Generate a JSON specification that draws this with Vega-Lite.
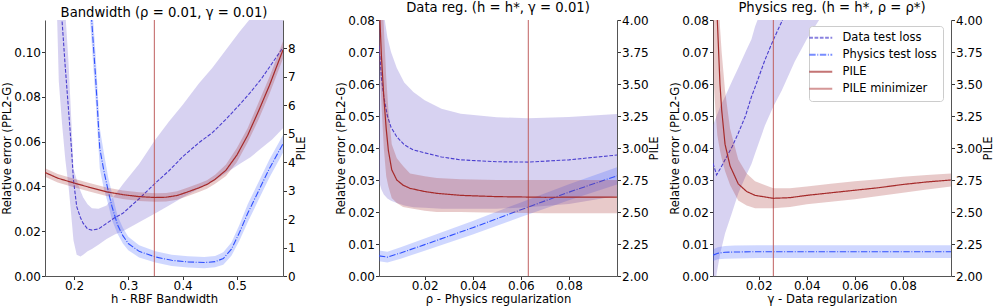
{
  "$schema": "https://vega.github.io/schema/vega-lite/v6.json",
  "padding": {"left": 1, "top": 0, "right": 0, "bottom": 0},
  "background": "white",
  "config": {
    "font": "DejaVu Sans",
    "view": {"stroke": null},
    "axis": {"labelFont": "DejaVu Sans", "labelFontSize": 12, "titleFont": "DejaVu Sans", "titleFontSize": 11.6, "titleFontWeight": "normal", "labelColor": "#000", "titleColor": "#000", "tickColor": "#333", "domainColor": "#555", "tickSize": 3.5, "grid": false, "labelPadding": 1, "titlePadding": 1, "labelOverlap": false, "labelSeparation": 0, "labelFlush": false},
    "axisBottom": {"labelPadding": 0.5, "titlePadding": 2.5},
    "axisRight": {"titleBaseline": "top", "titlePadding": 0},
    "title": {"font": "DejaVu Sans", "fontSize": 13.2, "fontWeight": "normal", "offset": -1, "color": "#000"},
    "legend": {"labelFont": "DejaVu Sans", "labelFontSize": 11.5, "labelColor": "#000"}
  },
  "datasets": {
    "d": [
      {"p":1,"s":"Data test loss","x":0.160,"lo":0.15,"y":0.175,"hi":0.20},
      {"p":1,"s":"Data test loss","x":0.169,"lo":0.1145,"y":0.140,"hi":0.165},
      {"p":1,"s":"Data test loss","x":0.172,"lo":0.087,"y":0.128,"hi":0.155},
      {"p":1,"s":"Data test loss","x":0.178,"lo":0.068,"y":0.114,"hi":0.137},
      {"p":1,"s":"Data test loss","x":0.184,"lo":0.052,"y":0.093,"hi":0.118},
      {"p":1,"s":"Data test loss","x":0.190,"lo":0.040,"y":0.074,"hi":0.095},
      {"p":1,"s":"Data test loss","x":0.195,"lo":0.027,"y":0.058,"hi":0.070},
      {"p":1,"s":"Data test loss","x":0.199,"lo":0.016,"y":0.043,"hi":0.048},
      {"p":1,"s":"Data test loss","x":0.205,"lo":0.0095,"y":0.031,"hi":0.043},
      {"p":1,"s":"Data test loss","x":0.212,"lo":0.0087,"y":0.026,"hi":0.038},
      {"p":1,"s":"Data test loss","x":0.217,"lo":0.0095,"y":0.0235,"hi":0.035},
      {"p":1,"s":"Data test loss","x":0.225,"lo":0.011,"y":0.021,"hi":0.032},
      {"p":1,"s":"Data test loss","x":0.233,"lo":0.012,"y":0.0205,"hi":0.0303},
      {"p":1,"s":"Data test loss","x":0.245,"lo":0.014,"y":0.021,"hi":0.030},
      {"p":1,"s":"Data test loss","x":0.260,"lo":0.0165,"y":0.0235,"hi":0.0315},
      {"p":1,"s":"Data test loss","x":0.275,"lo":0.0185,"y":0.026,"hi":0.036},
      {"p":1,"s":"Data test loss","x":0.290,"lo":0.020,"y":0.028,"hi":0.041},
      {"p":1,"s":"Data test loss","x":0.320,"lo":0.024,"y":0.0345,"hi":0.050},
      {"p":1,"s":"Data test loss","x":0.350,"lo":0.028,"y":0.0415,"hi":0.061},
      {"p":1,"s":"Data test loss","x":0.375,"lo":0.0315,"y":0.047,"hi":0.069},
      {"p":1,"s":"Data test loss","x":0.400,"lo":0.035,"y":0.0532,"hi":0.0763},
      {"p":1,"s":"Data test loss","x":0.430,"lo":0.039,"y":0.0595,"hi":0.086},
      {"p":1,"s":"Data test loss","x":0.455,"lo":0.042,"y":0.064,"hi":0.093},
      {"p":1,"s":"Data test loss","x":0.480,"lo":0.046,"y":0.070,"hi":0.101},
      {"p":1,"s":"Data test loss","x":0.505,"lo":0.050,"y":0.0765,"hi":0.109},
      {"p":1,"s":"Data test loss","x":0.525,"lo":0.053,"y":0.082,"hi":0.115},
      {"p":1,"s":"Data test loss","x":0.545,"lo":0.057,"y":0.088,"hi":0.121},
      {"p":1,"s":"Data test loss","x":0.565,"lo":0.061,"y":0.095,"hi":0.126},
      {"p":1,"s":"Data test loss","x":0.585,"lo":0.066,"y":0.102,"hi":0.131},

      {"p":1,"s":"Physics test loss","x":0.225,"lo":0.13,"y":0.14,"hi":0.15},
      {"p":1,"s":"Physics test loss","x":0.2325,"lo":0.1045,"y":0.1145,"hi":0.1245},
      {"p":1,"s":"Physics test loss","x":0.240,"lo":0.078,"y":0.088,"hi":0.098},
      {"p":1,"s":"Physics test loss","x":0.2475,"lo":0.048,"y":0.057,"hi":0.066},
      {"p":1,"s":"Physics test loss","x":0.255,"lo":0.039,"y":0.047,"hi":0.055},
      {"p":1,"s":"Physics test loss","x":0.263,"lo":0.032,"y":0.038,"hi":0.044},
      {"p":1,"s":"Physics test loss","x":0.270,"lo":0.025,"y":0.031,"hi":0.037},
      {"p":1,"s":"Physics test loss","x":0.280,"lo":0.019,"y":0.023,"hi":0.027},
      {"p":1,"s":"Physics test loss","x":0.290,"lo":0.0145,"y":0.018,"hi":0.0215},
      {"p":1,"s":"Physics test loss","x":0.300,"lo":0.0115,"y":0.0145,"hi":0.0175},
      {"p":1,"s":"Physics test loss","x":0.320,"lo":0.0083,"y":0.011,"hi":0.0137},
      {"p":1,"s":"Physics test loss","x":0.350,"lo":0.006,"y":0.0085,"hi":0.011},
      {"p":1,"s":"Physics test loss","x":0.380,"lo":0.0045,"y":0.007,"hi":0.0095},
      {"p":1,"s":"Physics test loss","x":0.410,"lo":0.0038,"y":0.0063,"hi":0.0088},
      {"p":1,"s":"Physics test loss","x":0.440,"lo":0.0035,"y":0.006,"hi":0.0085},
      {"p":1,"s":"Physics test loss","x":0.460,"lo":0.0039,"y":0.0064,"hi":0.0089},
      {"p":1,"s":"Physics test loss","x":0.475,"lo":0.005,"y":0.0078,"hi":0.0106},
      {"p":1,"s":"Physics test loss","x":0.490,"lo":0.009,"y":0.012,"hi":0.015},
      {"p":1,"s":"Physics test loss","x":0.505,"lo":0.016,"y":0.0195,"hi":0.023},
      {"p":1,"s":"Physics test loss","x":0.520,"lo":0.024,"y":0.028,"hi":0.032},
      {"p":1,"s":"Physics test loss","x":0.540,"lo":0.034,"y":0.038,"hi":0.042},
      {"p":1,"s":"Physics test loss","x":0.560,"lo":0.044,"y":0.048,"hi":0.052},
      {"p":1,"s":"Physics test loss","x":0.585,"lo":0.055,"y":0.059,"hi":0.063},

      {"p":1,"s":"PILE","x":0.1466,"lo":3.49,"y":3.64,"hi":3.79},
      {"p":1,"s":"PILE","x":0.17,"lo":3.29,"y":3.44,"hi":3.59},
      {"p":1,"s":"PILE","x":0.20,"lo":3.12,"y":3.27,"hi":3.42},
      {"p":1,"s":"PILE","x":0.23,"lo":2.96,"y":3.11,"hi":3.26},
      {"p":1,"s":"PILE","x":0.26,"lo":2.81,"y":2.96,"hi":3.11},
      {"p":1,"s":"PILE","x":0.29,"lo":2.71,"y":2.86,"hi":3.01},
      {"p":1,"s":"PILE","x":0.32,"lo":2.64,"y":2.79,"hi":2.94},
      {"p":1,"s":"PILE","x":0.35,"lo":2.61,"y":2.76,"hi":2.91},
      {"p":1,"s":"PILE","x":0.37,"lo":2.62,"y":2.77,"hi":2.92},
      {"p":1,"s":"PILE","x":0.39,"lo":2.68,"y":2.83,"hi":2.98},
      {"p":1,"s":"PILE","x":0.41,"lo":2.81,"y":2.96,"hi":3.11},
      {"p":1,"s":"PILE","x":0.43,"lo":2.95,"y":3.10,"hi":3.25},
      {"p":1,"s":"PILE","x":0.445,"lo":3.07,"y":3.22,"hi":3.37},
      {"p":1,"s":"PILE","x":0.46,"lo":3.24,"y":3.40,"hi":3.56},
      {"p":1,"s":"PILE","x":0.48,"lo":3.52,"y":3.72,"hi":3.92},
      {"p":1,"s":"PILE","x":0.50,"lo":4.0,"y":4.25,"hi":4.5},
      {"p":1,"s":"PILE","x":0.52,"lo":4.7,"y":4.95,"hi":5.2},
      {"p":1,"s":"PILE","x":0.54,"lo":5.5,"y":5.8,"hi":6.1},
      {"p":1,"s":"PILE","x":0.56,"lo":6.4,"y":6.7,"hi":7.0},
      {"p":1,"s":"PILE","x":0.585,"lo":7.65,"y":7.95,"hi":8.25},
      {"p":1,"s":"PILE minimizer","x":0.348},

      {"p":2,"s":"Data test loss","x":0.0010,"lo":0.029,"y":0.072,"hi":0.11},
      {"p":2,"s":"Data test loss","x":0.0014,"lo":0.0285,"y":0.0685,"hi":0.10},
      {"p":2,"s":"Data test loss","x":0.002,"lo":0.027,"y":0.062,"hi":0.090},
      {"p":2,"s":"Data test loss","x":0.003,"lo":0.0255,"y":0.056,"hi":0.082},
      {"p":2,"s":"Data test loss","x":0.0045,"lo":0.0242,"y":0.050,"hi":0.0745},
      {"p":2,"s":"Data test loss","x":0.006,"lo":0.0235,"y":0.0465,"hi":0.070},
      {"p":2,"s":"Data test loss","x":0.0084,"lo":0.0228,"y":0.0435,"hi":0.065},
      {"p":2,"s":"Data test loss","x":0.0115,"lo":0.022,"y":0.041,"hi":0.0605},
      {"p":2,"s":"Data test loss","x":0.0153,"lo":0.0215,"y":0.0394,"hi":0.0575},
      {"p":2,"s":"Data test loss","x":0.020,"lo":0.0213,"y":0.0385,"hi":0.0549},
      {"p":2,"s":"Data test loss","x":0.027,"lo":0.021,"y":0.0372,"hi":0.0523},
      {"p":2,"s":"Data test loss","x":0.035,"lo":0.021,"y":0.0363,"hi":0.0507},
      {"p":2,"s":"Data test loss","x":0.050,"lo":0.021,"y":0.0357,"hi":0.0496},
      {"p":2,"s":"Data test loss","x":0.063,"lo":0.0215,"y":0.0356,"hi":0.0493},
      {"p":2,"s":"Data test loss","x":0.080,"lo":0.0225,"y":0.0363,"hi":0.0497},
      {"p":2,"s":"Data test loss","x":0.100,"lo":0.025,"y":0.0378,"hi":0.0506},

      {"p":2,"s":"Physics test loss","x":0.001,"lo":0.0046,"y":0.0063,"hi":0.008},
      {"p":2,"s":"Physics test loss","x":0.0045,"lo":0.0042,"y":0.0059,"hi":0.0076},
      {"p":2,"s":"Physics test loss","x":0.010,"lo":0.0054,"y":0.0072,"hi":0.009},
      {"p":2,"s":"Physics test loss","x":0.020,"lo":0.0079,"y":0.0098,"hi":0.0117},
      {"p":2,"s":"Physics test loss","x":0.040,"lo":0.013,"y":0.0151,"hi":0.0172},
      {"p":2,"s":"Physics test loss","x":0.060,"lo":0.0184,"y":0.0207,"hi":0.023},
      {"p":2,"s":"Physics test loss","x":0.080,"lo":0.0237,"y":0.0262,"hi":0.0287},
      {"p":2,"s":"Physics test loss","x":0.100,"lo":0.0286,"y":0.0313,"hi":0.034},

      {"p":2,"s":"PILE","x":0.001,"lo":3.7,"y":4.3,"hi":4.8},
      {"p":2,"s":"PILE","x":0.0014,"lo":3.6,"y":4.0,"hi":4.6},
      {"p":2,"s":"PILE","x":0.002,"lo":3.35,"y":3.72,"hi":4.3},
      {"p":2,"s":"PILE","x":0.003,"lo":3.0,"y":3.4,"hi":3.95},
      {"p":2,"s":"PILE","x":0.004,"lo":2.78,"y":3.15,"hi":3.55},
      {"p":2,"s":"PILE","x":0.0049,"lo":2.70,"y":2.98,"hi":3.3},
      {"p":2,"s":"PILE","x":0.0063,"lo":2.61,"y":2.83,"hi":3.03},
      {"p":2,"s":"PILE","x":0.0084,"lo":2.57,"y":2.75,"hi":2.92},
      {"p":2,"s":"PILE","x":0.011,"lo":2.54,"y":2.71,"hi":2.86},
      {"p":2,"s":"PILE","x":0.0139,"lo":2.53,"y":2.685,"hi":2.80},
      {"p":2,"s":"PILE","x":0.020,"lo":2.51,"y":2.66,"hi":2.78},
      {"p":2,"s":"PILE","x":0.025,"lo":2.50,"y":2.646,"hi":2.765},
      {"p":2,"s":"PILE","x":0.035,"lo":2.50,"y":2.63,"hi":2.755},
      {"p":2,"s":"PILE","x":0.050,"lo":2.495,"y":2.62,"hi":2.75},
      {"p":2,"s":"PILE","x":0.070,"lo":2.49,"y":2.615,"hi":2.75},
      {"p":2,"s":"PILE","x":0.100,"lo":2.49,"y":2.617,"hi":2.75},
      {"p":2,"s":"PILE minimizer","x":0.0631},

      {"p":3,"s":"Data test loss","x":0.001,"lo":-0.012,"y":0.0352,"hi":0.047},
      {"p":3,"s":"Data test loss","x":0.0025,"lo":0.0008,"y":0.0316,"hi":0.050},
      {"p":3,"s":"Data test loss","x":0.004,"lo":0.007,"y":0.0335,"hi":0.053},
      {"p":3,"s":"Data test loss","x":0.006,"lo":0.0133,"y":0.0363,"hi":0.056},
      {"p":3,"s":"Data test loss","x":0.009,"lo":0.020,"y":0.0405,"hi":0.061},
      {"p":3,"s":"Data test loss","x":0.0115,"lo":0.0258,"y":0.0446,"hi":0.065},
      {"p":3,"s":"Data test loss","x":0.0145,"lo":0.031,"y":0.050,"hi":0.070},
      {"p":3,"s":"Data test loss","x":0.017,"lo":0.035,"y":0.056,"hi":0.074},
      {"p":3,"s":"Data test loss","x":0.0185,"lo":0.0383,"y":0.059,"hi":0.078},
      {"p":3,"s":"Data test loss","x":0.0226,"lo":0.047,"y":0.0675,"hi":0.086},
      {"p":3,"s":"Data test loss","x":0.0261,"lo":0.053,"y":0.0738,"hi":0.093},
      {"p":3,"s":"Data test loss","x":0.0296,"lo":0.058,"y":0.0795,"hi":0.100},
      {"p":3,"s":"Data test loss","x":0.035,"lo":0.067,"y":0.089,"hi":0.11},
      {"p":3,"s":"Data test loss","x":0.040,"lo":0.074,"y":0.098,"hi":0.12},
      {"p":3,"s":"Data test loss","x":0.046,"lo":0.081,"y":0.108,"hi":0.13},

      {"p":3,"s":"Physics test loss","x":0.001,"lo":0.0047,"y":0.0065,"hi":0.0083},
      {"p":3,"s":"Physics test loss","x":0.003,"lo":0.0052,"y":0.0071,"hi":0.009},
      {"p":3,"s":"Physics test loss","x":0.006,"lo":0.0054,"y":0.0074,"hi":0.0094},
      {"p":3,"s":"Physics test loss","x":0.010,"lo":0.0055,"y":0.0075,"hi":0.0095},
      {"p":3,"s":"Physics test loss","x":0.020,"lo":0.0056,"y":0.0076,"hi":0.0096},
      {"p":3,"s":"Physics test loss","x":0.050,"lo":0.0056,"y":0.0076,"hi":0.0096},
      {"p":3,"s":"Physics test loss","x":0.100,"lo":0.0056,"y":0.0076,"hi":0.0096},

      {"p":3,"s":"PILE","x":0.001,"lo":3.6,"y":5.5,"hi":6.0},
      {"p":3,"s":"PILE","x":0.002,"lo":3.3,"y":4.4,"hi":5.0},
      {"p":3,"s":"PILE","x":0.0028,"lo":3.1,"y":4.0,"hi":4.6},
      {"p":3,"s":"PILE","x":0.0039,"lo":2.98,"y":3.5,"hi":3.95},
      {"p":3,"s":"PILE","x":0.0046,"lo":2.92,"y":3.3,"hi":3.75},
      {"p":3,"s":"PILE","x":0.006,"lo":2.82,"y":3.03,"hi":3.45},
      {"p":3,"s":"PILE","x":0.0081,"lo":2.71,"y":2.86,"hi":3.15},
      {"p":3,"s":"PILE","x":0.0115,"lo":2.59,"y":2.72,"hi":2.91},
      {"p":3,"s":"PILE","x":0.015,"lo":2.55,"y":2.66,"hi":2.80},
      {"p":3,"s":"PILE","x":0.0185,"lo":2.53,"y":2.63,"hi":2.74},
      {"p":3,"s":"PILE","x":0.0261,"lo":2.53,"y":2.607,"hi":2.685},
      {"p":3,"s":"PILE","x":0.033,"lo":2.54,"y":2.612,"hi":2.685},
      {"p":3,"s":"PILE","x":0.040,"lo":2.56,"y":2.63,"hi":2.70},
      {"p":3,"s":"PILE","x":0.050,"lo":2.58,"y":2.65,"hi":2.72},
      {"p":3,"s":"PILE","x":0.060,"lo":2.60,"y":2.67,"hi":2.74},
      {"p":3,"s":"PILE","x":0.070,"lo":2.625,"y":2.69,"hi":2.755},
      {"p":3,"s":"PILE","x":0.080,"lo":2.65,"y":2.715,"hi":2.775},
      {"p":3,"s":"PILE","x":0.090,"lo":2.675,"y":2.735,"hi":2.79},
      {"p":3,"s":"PILE","x":0.100,"lo":2.70,"y":2.75,"hi":2.80},
      {"p":3,"s":"PILE minimizer","x":0.0261}
    ]
  },
  "spacing": 96,
  "bounds": "flush",
  "hconcat": [
    {
      "width": 238, "height": 256,
      "title": "Bandwidth (ρ = 0.01, γ = 0.01)",
      "data": {"name": "d"},
      "transform": [{"filter": "datum.p == 1"}],
      "layer": [
        {
          "layer": [
            {"transform": [{"filter": "datum.s == 'Data test loss'"}],
             "mark": {"type": "area", "clip": true, "color": "#6a5acd", "opacity": 0.27},
             "encoding": {
               "x": {"field": "x", "type": "quantitative", "scale": {"domain": [0.1466, 0.585], "nice": false, "zero": false}, "axis": {"values": [0.2, 0.3, 0.4, 0.5], "format": ".1f", "title": "h - RBF Bandwidth", "labelOverlap": false}},
               "y": {"field": "lo", "type": "quantitative", "scale": {"domain": [0, 0.1143], "nice": false, "zero": false}, "axis": {"values": [0, 0.02, 0.04, 0.06, 0.08, 0.1], "format": ".2f", "title": "Relative error (PPL2-G)", "orient": "left", "labelOverlap": false}},
               "y2": {"field": "hi"}}},
            {"transform": [{"filter": "datum.s == 'Physics test loss'"}],
             "mark": {"type": "area", "clip": true, "color": "#4060ff", "opacity": 0.25},
             "encoding": {
               "x": {"field": "x", "type": "quantitative", "axis": {"values": [0.2, 0.3, 0.4, 0.5], "format": ".1f", "title": "h - RBF Bandwidth", "labelOverlap": false}},
               "y": {"field": "lo", "type": "quantitative", "axis": {"values": [0, 0.02, 0.04, 0.06, 0.08, 0.1], "format": ".2f", "title": "Relative error (PPL2-G)", "orient": "left", "labelOverlap": false}},
               "y2": {"field": "hi"}}},
            {"transform": [{"filter": "datum.s == 'Data test loss' || datum.s == 'Physics test loss'"}],
             "mark": {"type": "line", "clip": true, "strokeWidth": 1.1},
             "encoding": {
               "x": {"field": "x", "type": "quantitative", "axis": {"values": [0.2, 0.3, 0.4, 0.5], "format": ".1f", "title": "h - RBF Bandwidth", "labelOverlap": false}},
               "y": {"field": "y", "type": "quantitative", "axis": {"values": [0, 0.02, 0.04, 0.06, 0.08, 0.1], "format": ".2f", "title": "Relative error (PPL2-G)", "orient": "left", "labelOverlap": false}},
               "stroke": {"field": "s", "type": "nominal", "scale": {"domain": ["Data test loss", "Physics test loss", "PILE", "PILE minimizer"], "range": ["#4b3fcf", "#3050ff", "#a52a2a", "#c06060"]},
                 "legend": {"title": null, "orient": "none", "legendX": 764, "legendY": 6, "symbolType": "M-4.6,0H4.6", "symbolSize": 25, "symbolStrokeWidth": 2, "symbolOpacity": 0.65, "labelOffset": 16, "rowPadding": 4, "padding": 6, "strokeColor": "#cccccc", "fillColor": "white", "cornerRadius": 3}},
               "strokeDash": {"field": "s", "type": "nominal", "scale": {"domain": ["Data test loss", "Physics test loss", "PILE", "PILE minimizer"], "range": [[3.7, 1.6], [6.4, 1.6, 1, 1.6], [1, 0], [1, 0]]},
                 "legend": {"title": null, "orient": "none", "legendX": 764, "legendY": 6, "symbolType": "M-4.6,0H4.6", "symbolSize": 25, "symbolStrokeWidth": 2, "symbolOpacity": 0.65, "labelOffset": 16, "rowPadding": 4, "padding": 6, "strokeColor": "#cccccc", "fillColor": "white", "cornerRadius": 3}}}},
            {"transform": [{"filter": "datum.s == 'PILE minimizer'"}],
             "mark": {"type": "rule", "strokeWidth": 1},
             "encoding": {
               "x": {"field": "x", "type": "quantitative", "axis": {"values": [0.2, 0.3, 0.4, 0.5], "format": ".1f", "title": "h - RBF Bandwidth", "labelOverlap": false}},
               "stroke": {"field": "s", "type": "nominal"},
               "strokeDash": {"field": "s", "type": "nominal"}}}
          ]
        },
        {
          "transform": [{"filter": "datum.s == 'PILE'"}],
          "layer": [
            {"mark": {"type": "area", "clip": true, "color": "#a52a2a", "opacity": 0.25},
             "encoding": {
               "x": {"field": "x", "type": "quantitative", "axis": {"values": [0.2, 0.3, 0.4, 0.5], "format": ".1f", "title": "h - RBF Bandwidth", "labelOverlap": false}},
               "y": {"field": "lo", "type": "quantitative", "scale": {"domain": [0, 9], "nice": false, "zero": false}, "axis": {"values": [0, 1, 2, 3, 4, 5, 6, 7, 8], "format": "d", "title": "PILE", "orient": "right", "titleAngle": 270, "titleBaseline": "top", "titlePadding": 0, "labelOverlap": false}},
               "y2": {"field": "hi"}}},
            {"mark": {"type": "line", "clip": true, "strokeWidth": 1.2},
             "encoding": {
               "x": {"field": "x", "type": "quantitative", "axis": {"values": [0.2, 0.3, 0.4, 0.5], "format": ".1f", "title": "h - RBF Bandwidth", "labelOverlap": false}},
               "y": {"field": "y", "type": "quantitative", "axis": {"values": [0, 1, 2, 3, 4, 5, 6, 7, 8], "format": "d", "title": "PILE", "orient": "right", "titleAngle": 270, "titleBaseline": "top", "titlePadding": 0, "labelOverlap": false}},
               "stroke": {"field": "s", "type": "nominal"},
               "strokeDash": {"field": "s", "type": "nominal"}}}
          ]
        }
      ],
      "resolve": {"scale": {"y": "independent"}}
    },
    {
      "width": 238, "height": 256,
      "title": "Data reg. (h = h*, γ = 0.01)",
      "data": {"name": "d"},
      "transform": [{"filter": "datum.p == 2"}],
      "layer": [
        {
          "layer": [
            {"transform": [{"filter": "datum.s == 'Data test loss'"}],
             "mark": {"type": "area", "clip": true, "color": "#6a5acd", "opacity": 0.27},
             "encoding": {
               "x": {"field": "x", "type": "quantitative", "scale": {"domain": [0.001, 0.1], "nice": false, "zero": false}, "axis": {"values": [0.02, 0.04, 0.06, 0.08], "format": ".2f", "title": "ρ - Physics regularization", "labelOverlap": false}},
               "y": {"field": "lo", "type": "quantitative", "scale": {"domain": [0, 0.08], "nice": false, "zero": false}, "axis": {"values": [0, 0.01, 0.02, 0.03, 0.04, 0.05, 0.06, 0.07, 0.08], "format": ".2f", "title": "Relative error (PPL2-G)", "orient": "left", "labelOverlap": false}},
               "y2": {"field": "hi"}}},
            {"transform": [{"filter": "datum.s == 'Physics test loss'"}],
             "mark": {"type": "area", "clip": true, "color": "#4060ff", "opacity": 0.25},
             "encoding": {
               "x": {"field": "x", "type": "quantitative", "axis": {"values": [0.02, 0.04, 0.06, 0.08], "format": ".2f", "title": "ρ - Physics regularization", "labelOverlap": false}},
               "y": {"field": "lo", "type": "quantitative", "axis": {"values": [0, 0.01, 0.02, 0.03, 0.04, 0.05, 0.06, 0.07, 0.08], "format": ".2f", "title": "Relative error (PPL2-G)", "orient": "left", "labelOverlap": false}},
               "y2": {"field": "hi"}}},
            {"transform": [{"filter": "datum.s == 'Data test loss' || datum.s == 'Physics test loss'"}],
             "mark": {"type": "line", "clip": true, "strokeWidth": 1.1},
             "encoding": {
               "x": {"field": "x", "type": "quantitative", "axis": {"values": [0.02, 0.04, 0.06, 0.08], "format": ".2f", "title": "ρ - Physics regularization", "labelOverlap": false}},
               "y": {"field": "y", "type": "quantitative", "axis": {"values": [0, 0.01, 0.02, 0.03, 0.04, 0.05, 0.06, 0.07, 0.08], "format": ".2f", "title": "Relative error (PPL2-G)", "orient": "left", "labelOverlap": false}},
               "stroke": {"field": "s", "type": "nominal"},
               "strokeDash": {"field": "s", "type": "nominal"}}},
            {"transform": [{"filter": "datum.s == 'PILE minimizer'"}],
             "mark": {"type": "rule", "strokeWidth": 1},
             "encoding": {
               "x": {"field": "x", "type": "quantitative", "axis": {"values": [0.02, 0.04, 0.06, 0.08], "format": ".2f", "title": "ρ - Physics regularization", "labelOverlap": false}},
               "stroke": {"field": "s", "type": "nominal"},
               "strokeDash": {"field": "s", "type": "nominal"}}}
          ]
        },
        {
          "transform": [{"filter": "datum.s == 'PILE'"}],
          "layer": [
            {"mark": {"type": "area", "clip": true, "color": "#a52a2a", "opacity": 0.25},
             "encoding": {
               "x": {"field": "x", "type": "quantitative", "axis": {"values": [0.02, 0.04, 0.06, 0.08], "format": ".2f", "title": "ρ - Physics regularization", "labelOverlap": false}},
               "y": {"field": "lo", "type": "quantitative", "scale": {"domain": [2, 4], "nice": false, "zero": false}, "axis": {"values": [2, 2.25, 2.5, 2.75, 3, 3.25, 3.5, 3.75, 4], "format": ".2f", "title": "PILE", "orient": "right", "titleAngle": 270, "titleBaseline": "top", "titlePadding": 0, "labelOverlap": false}},
               "y2": {"field": "hi"}}},
            {"mark": {"type": "line", "clip": true, "strokeWidth": 1.2},
             "encoding": {
               "x": {"field": "x", "type": "quantitative", "axis": {"values": [0.02, 0.04, 0.06, 0.08], "format": ".2f", "title": "ρ - Physics regularization", "labelOverlap": false}},
               "y": {"field": "y", "type": "quantitative", "axis": {"values": [2, 2.25, 2.5, 2.75, 3, 3.25, 3.5, 3.75, 4], "format": ".2f", "title": "PILE", "orient": "right", "titleAngle": 270, "titleBaseline": "top", "titlePadding": 0, "labelOverlap": false}},
               "stroke": {"field": "s", "type": "nominal"},
               "strokeDash": {"field": "s", "type": "nominal"}}}
          ]
        }
      ],
      "resolve": {"scale": {"y": "independent"}}
    },
    {
      "width": 238, "height": 256,
      "title": "Physics reg. (h = h*, ρ = ρ*)",
      "data": {"name": "d"},
      "transform": [{"filter": "datum.p == 3"}],
      "layer": [
        {
          "layer": [
            {"transform": [{"filter": "datum.s == 'Data test loss'"}],
             "mark": {"type": "area", "clip": true, "color": "#6a5acd", "opacity": 0.27},
             "encoding": {
               "x": {"field": "x", "type": "quantitative", "scale": {"domain": [0.001, 0.1], "nice": false, "zero": false}, "axis": {"values": [0.02, 0.04, 0.06, 0.08], "format": ".2f", "title": "γ - Data regularization", "labelOverlap": false}},
               "y": {"field": "lo", "type": "quantitative", "scale": {"domain": [0, 0.08], "nice": false, "zero": false}, "axis": {"values": [0, 0.01, 0.02, 0.03, 0.04, 0.05, 0.06, 0.07, 0.08], "format": ".2f", "title": "Relative error (PPL2-G)", "orient": "left", "labelOverlap": false}},
               "y2": {"field": "hi"}}},
            {"transform": [{"filter": "datum.s == 'Physics test loss'"}],
             "mark": {"type": "area", "clip": true, "color": "#4060ff", "opacity": 0.25},
             "encoding": {
               "x": {"field": "x", "type": "quantitative", "axis": {"values": [0.02, 0.04, 0.06, 0.08], "format": ".2f", "title": "γ - Data regularization", "labelOverlap": false}},
               "y": {"field": "lo", "type": "quantitative", "axis": {"values": [0, 0.01, 0.02, 0.03, 0.04, 0.05, 0.06, 0.07, 0.08], "format": ".2f", "title": "Relative error (PPL2-G)", "orient": "left", "labelOverlap": false}},
               "y2": {"field": "hi"}}},
            {"transform": [{"filter": "datum.s == 'Data test loss' || datum.s == 'Physics test loss'"}],
             "mark": {"type": "line", "clip": true, "strokeWidth": 1.1},
             "encoding": {
               "x": {"field": "x", "type": "quantitative", "axis": {"values": [0.02, 0.04, 0.06, 0.08], "format": ".2f", "title": "γ - Data regularization", "labelOverlap": false}},
               "y": {"field": "y", "type": "quantitative", "axis": {"values": [0, 0.01, 0.02, 0.03, 0.04, 0.05, 0.06, 0.07, 0.08], "format": ".2f", "title": "Relative error (PPL2-G)", "orient": "left", "labelOverlap": false}},
               "stroke": {"field": "s", "type": "nominal"},
               "strokeDash": {"field": "s", "type": "nominal"}}},
            {"transform": [{"filter": "datum.s == 'PILE minimizer'"}],
             "mark": {"type": "rule", "strokeWidth": 1},
             "encoding": {
               "x": {"field": "x", "type": "quantitative", "axis": {"values": [0.02, 0.04, 0.06, 0.08], "format": ".2f", "title": "γ - Data regularization", "labelOverlap": false}},
               "stroke": {"field": "s", "type": "nominal"},
               "strokeDash": {"field": "s", "type": "nominal"}}}
          ]
        },
        {
          "transform": [{"filter": "datum.s == 'PILE'"}],
          "layer": [
            {"mark": {"type": "area", "clip": true, "color": "#a52a2a", "opacity": 0.25},
             "encoding": {
               "x": {"field": "x", "type": "quantitative", "axis": {"values": [0.02, 0.04, 0.06, 0.08], "format": ".2f", "title": "γ - Data regularization", "labelOverlap": false}},
               "y": {"field": "lo", "type": "quantitative", "scale": {"domain": [2, 4], "nice": false, "zero": false}, "axis": {"values": [2, 2.25, 2.5, 2.75, 3, 3.25, 3.5, 3.75, 4], "format": ".2f", "title": "PILE", "orient": "right", "titleAngle": 270, "titleBaseline": "top", "titlePadding": 0, "labelOverlap": false}},
               "y2": {"field": "hi"}}},
            {"mark": {"type": "line", "clip": true, "strokeWidth": 1.2},
             "encoding": {
               "x": {"field": "x", "type": "quantitative", "axis": {"values": [0.02, 0.04, 0.06, 0.08], "format": ".2f", "title": "γ - Data regularization", "labelOverlap": false}},
               "y": {"field": "y", "type": "quantitative", "axis": {"values": [2, 2.25, 2.5, 2.75, 3, 3.25, 3.5, 3.75, 4], "format": ".2f", "title": "PILE", "orient": "right", "titleAngle": 270, "titleBaseline": "top", "titlePadding": 0, "labelOverlap": false}},
               "stroke": {"field": "s", "type": "nominal"},
               "strokeDash": {"field": "s", "type": "nominal"}}}
          ]
        }
      ],
      "resolve": {"scale": {"y": "independent"}}
    }
  ]
}
